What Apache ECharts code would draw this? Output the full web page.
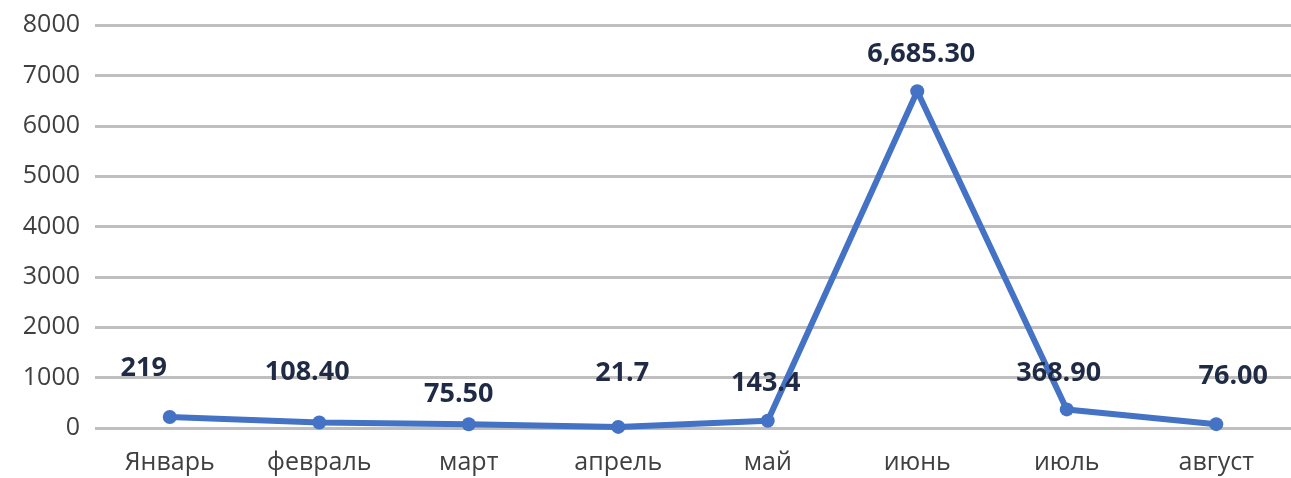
<!DOCTYPE html>
<html>
<head>
<meta charset="utf-8">
<script src="https://cdn.jsdelivr.net/npm/echarts@6/dist/echarts.min.js"></script>
<style>
html,body{margin:0;padding:0;background:#fff;}
#c{width:1291px;height:478px;}
</style>
</head>
<body>
<div id="c"></div>
<script>
const categories = ['Январь', 'февраль', 'март', 'апрель', 'май', 'июнь', 'июль', 'август'];
const values = [219, 108.4, 75.5, 21.7, 143.4, 6685.3, 368.9, 76.0];
const valueLabels = ['219', '108.40', '75.50', '21.7', '143.4', '6,685.30', '368.90', '76.00'];
const yTicks = [0, 1000, 2000, 3000, 4000, 5000, 6000, 7000, 8000];

// label placement style (offset from point centre)
const labelOffsets = [[-26, -49], [-12, -50], [-10, -30], [4, -54], [-2, -37], [4, -37], [-8, -36], [17, -48]];

const chart = echarts.init(document.getElementById('c'), null, {renderer: 'canvas'});
const FONT = '"Open Sans", "Noto Sans", sans-serif';

chart.setOption({
  animation: false,
  backgroundColor: '#ffffff',
  grid: {left: 95, top: 25, width: 1203, bottom: 50, containLabel: false},
  xAxis: {
    type: 'category',
    data: categories,
    boundaryGap: true,
    axisLine: {show: false},
    axisTick: {show: false},
    axisLabel: {color: '#404040', fontSize: 25, fontFamily: FONT, margin: 22}
  },
  yAxis: {
    type: 'value',
    min: yTicks[0],
    max: yTicks[yTicks.length - 1],
    interval: yTicks[1] - yTicks[0],
    axisLine: {show: false},
    axisTick: {show: false},
    axisLabel: {color: '#404040', fontSize: 25, fontFamily: FONT, margin: 15, formatter: v => String(v)},
    splitLine: {lineStyle: {color: '#bfbfbf', width: 3}}
  },
  series: [{
    type: 'line',
    data: values.map((v, i) => ({
      value: v,
      label: {offset: labelOffsets[i], formatter: () => valueLabels[i]}
    })),
    symbol: 'circle',
    symbolSize: 14,
    lineStyle: {color: '#4472C4', width: 6},
    itemStyle: {color: '#4472C4'},
    label: {
      show: true,
      position: 'inside',
      color: '#1f2a44',
      fontSize: 27,
      fontWeight: 'bold',
      fontFamily: FONT
    }
  }]
});
</script>
</body>
</html>
